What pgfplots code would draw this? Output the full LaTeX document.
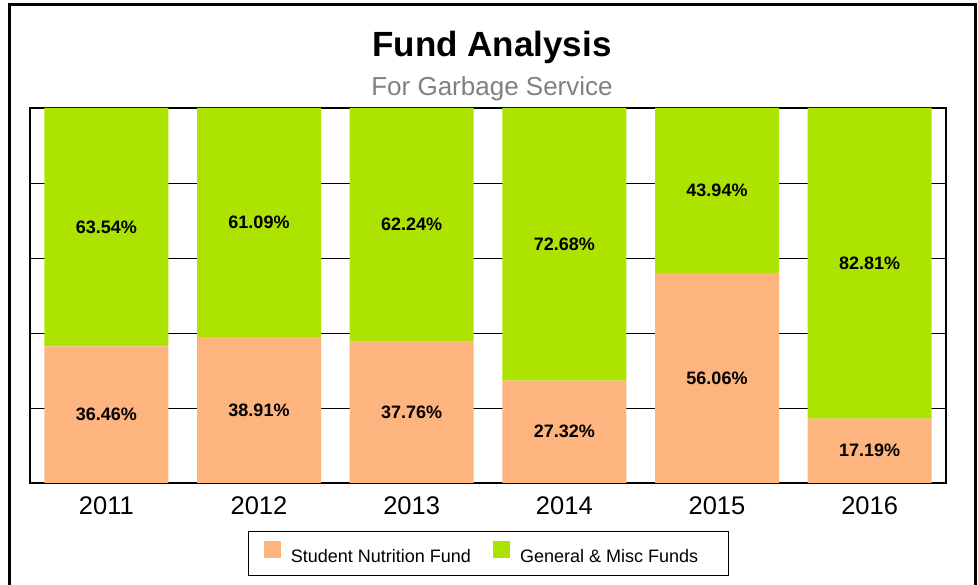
\documentclass[border=0pt]{standalone}
\usepackage{pgfplots}
\pgfplotsset{compat=1.18}
\usepackage{fontspec}
\setmainfont{Liberation Sans}
\definecolor{snf}{RGB}{253,180,126}
\definecolor{gmf}{RGB}{173,227,0}
\begin{document}
\begin{tikzpicture}[x=1pt,y=1pt]
\path[use as bounding box] (0,0) rectangle (978,585);
\draw[line width=2.5pt] (9.5,580.5) rectangle (975.5,-20);
\node[anchor=base,font=\fontsize{35}{40}\selectfont\bfseries] at (492,528) {Fund Analysis};
\node[anchor=base,font=\fontsize{26}{30}\selectfont, text={rgb,255:red,128;green,128;blue,128}] at (492,489) {For Garbage Service};
\begin{axis}[
  at={(30pt,102pt)}, anchor=south west,
  width=916pt, height=375pt, scale only axis,
  ybar stacked, bar width=124pt,
  xmin=-0.5, xmax=5.5, ymin=0, ymax=100,
  xtick={0,1,2,3,4,5}, xticklabels={2011,2012,2013,2014,2015,2016},
  ytick={0,20,40,60,80,100}, yticklabels={},
  ymajorgrids, grid style={black, line width=0.8pt},
  major tick length=0pt,
  axis line style={line width=1.3pt},
  ticklabel style={font=\fontsize{25.5}{28}\selectfont},
  xticklabel style={yshift=-10pt},
  /pgf/number format/assume math mode=true,
  nodes near coords={\pgfmathprintnumber[fixed,fixed zerofill,precision=2]{\pgfplotspointmeta}\%},
  every node near coord/.append style={font=\fontsize{18}{20}\selectfont\bfseries},
  legend columns=2,
  legend style={at={(0.5,-0.188)}, anchor=center, draw=black, line width=0.8pt,
    font=\fontsize{18}{20}\selectfont, inner xsep=16pt, inner ysep=9.5pt,
    /tikz/every odd column/.append style={column sep=8pt},
    /tikz/every even column/.append style={column sep=20pt}},
]
\addplot[fill=snf, draw=none, legend image code/.code={\fill[snf] (0pt,-2pt) rectangle (17pt,15pt);}]
  coordinates {(0,36.46) (1,38.91) (2,37.76) (3,27.32) (4,56.06) (5,17.19)};
\addplot[fill=gmf, draw=none, legend image code/.code={\fill[gmf] (0pt,-2pt) rectangle (17pt,15pt);}]
  coordinates {(0,63.54) (1,61.09) (2,62.24) (3,72.68) (4,43.94) (5,82.81)};
\legend{Student Nutrition Fund, General \& Misc Funds\hspace*{12pt}}
\end{axis}
\end{tikzpicture}
\end{document}
